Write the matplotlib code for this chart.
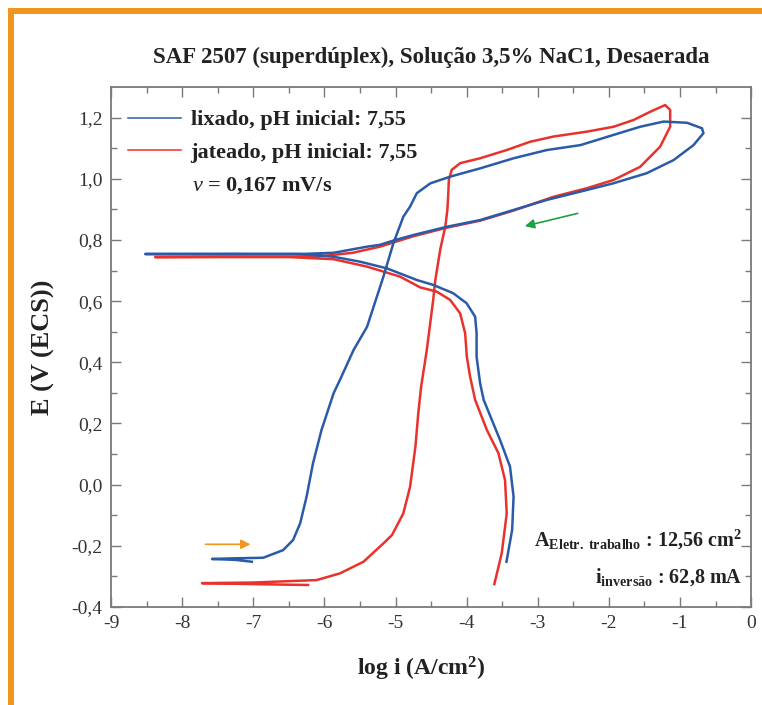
import numpy as np
import matplotlib.pyplot as plt
from matplotlib.lines import Line2D
from matplotlib.patches import Rectangle

plt.rcParams['font.family'] = ['Liberation Serif', 'DejaVu Serif']
plt.rcParams['mathtext.fontset'] = 'custom'
plt.rcParams['mathtext.rm'] = 'Liberation Serif'
plt.rcParams['mathtext.it'] = 'Liberation Serif:italic'
plt.rcParams['mathtext.bf'] = 'Liberation Serif:bold'

# curva lixado (azul): ida, inversao, volta e ramo catodico
lixado_logi = [-7.02, -7.25, -7.58, -7.3, -6.86, -6.58, -6.44, -6.34, -6.25, -6.16,
               -6.04, -5.87, -5.78, -5.59, -5.40, -5.17, -5.03, -4.89, -4.795, -4.70,
               -4.51, -4.23, -3.81, -3.34, -2.87, -2.40, -1.94, -1.56, -1.23, -0.90,
               -0.69, -0.67, -0.81, -1.09, -1.47, -1.94, -2.40, -2.87, -3.34, -3.81,
               -4.28, -4.75, -5.0, -5.22, -5.40, -5.87, -6.34, -7.28, -8.52, -7.28,
               -6.34, -5.87, -5.50, -5.12, -4.70, -4.47, -4.19, -4.00, -3.88, -3.86,
               -3.86, -3.81, -3.76, -3.53, -3.39, -3.34, -3.36, -3.44]
lixado_E = [-0.252, -0.246, -0.243, -0.241, -0.239, -0.214, -0.181, -0.126, -0.039, 0.070,
            0.179, 0.299, 0.343, 0.440, 0.516, 0.680, 0.789, 0.876, 0.909, 0.953,
            0.985, 1.007, 1.034, 1.067, 1.094, 1.110, 1.143, 1.170, 1.187, 1.183,
            1.165, 1.149, 1.110, 1.061, 1.018, 0.985, 0.958, 0.931, 0.898, 0.865,
            0.843, 0.816, 0.800, 0.784, 0.778, 0.758, 0.754, 0.753, 0.754, 0.755,
            0.754, 0.745, 0.729, 0.707, 0.669, 0.653, 0.626, 0.593, 0.549, 0.495,
            0.418, 0.331, 0.277, 0.146, 0.059, -0.039, -0.148, -0.252]

# curva jateado (vermelha)
jateado_logi = [-6.23, -6.8, -7.72, -7.0, -6.11, -5.78, -5.45, -5.17, -5.05, -4.89,
                -4.795, -4.72, -4.68, -4.64, -4.56, -4.47, -4.44, -4.37, -4.30, -4.27,
                -4.256, -4.25, -4.21, -4.09, -3.81, -3.435, -3.107, -2.779, -2.31, -1.935,
                -1.654, -1.419, -1.208, -1.138, -1.138, -1.279, -1.56, -1.935, -2.31, -2.779,
                -3.34, -3.81, -4.28, -4.75, -5.22, -5.6, -6.0, -6.5, -7.5, -8.38,
                -7.5, -6.5, -5.873, -5.404, -4.935, -4.654, -4.42, -4.232, -4.091, -4.021,
                -3.997, -3.951, -3.88, -3.716, -3.553, -3.46, -3.436, -3.506, -3.61]
jateado_E = [-0.328, -0.326, -0.322, -0.320, -0.312, -0.290, -0.252, -0.192, -0.165, -0.094,
             -0.007, 0.124, 0.233, 0.320, 0.440, 0.604, 0.669, 0.770, 0.843, 0.900,
             0.960, 0.996, 1.029, 1.051, 1.067, 1.094, 1.121, 1.138, 1.154, 1.170,
             1.192, 1.219, 1.241, 1.225, 1.170, 1.105, 1.039, 0.996, 0.969, 0.941,
             0.896, 0.863, 0.840, 0.812, 0.778, 0.758, 0.748, 0.745, 0.744, 0.744,
             0.745, 0.744, 0.737, 0.713, 0.680, 0.645, 0.631, 0.604, 0.560, 0.495,
             0.418, 0.353, 0.277, 0.179, 0.103, 0.015, -0.094, -0.224, -0.325]

xticks = [-9, -8, -7, -6, -5, -4, -3, -2, -1, 0]
yticks = [-0.4, -0.2, 0.0, 0.2, 0.4, 0.6, 0.8, 1.0, 1.2]
ytick_labels = ['-0,4', '-0,2', '0,0', '0,2', '0,4', '0,6', '0,8', '1,0', '1,2']

azul = '#2b5ba8'
vermelho = '#e8322b'
laranja = '#f0961e'
cinza = '#7a7a7a'
texto = '#222222'

fig = plt.figure(figsize=(7.62, 7.05), dpi=100)
ax = fig.add_axes([0.1457, 0.139, 0.84, 0.7376])

# moldura laranja
fig.add_artist(Rectangle((0.0105, 0.980), 0.99, 0.0085, transform=fig.transFigure,
                         color=laranja, lw=0))
fig.add_artist(Rectangle((0.0105, 0.0), 0.0079, 0.9885, transform=fig.transFigure,
                         color=laranja, lw=0))

ax.plot(jateado_logi, jateado_E, color=vermelho, lw=1.8)
ax.plot(lixado_logi, lixado_E, color=azul, lw=1.8)

ax.set_xlim(-9, 0)
ax.set_ylim(-0.4, 1.3)
ax.set_xticks(xticks)
ax.set_xticklabels([str(t) for t in xticks])
ax.set_yticks(yticks)
ax.set_yticklabels(ytick_labels)
ax.set_xticks(np.arange(-8.5, 0, 1.0), minor=True)
ax.set_yticks(np.arange(-0.3, 1.3, 0.2), minor=True)
ax.tick_params(which='both', direction='in', top=True, right=True, color=cinza,
               labelsize=14, labelcolor='#333333')
ax.tick_params(which='major', length=7.5, width=1.0, pad=6)
ax.tick_params(which='minor', length=4, width=1.0)
for s in ax.spines.values():
    s.set_color(cinza)
    s.set_linewidth(1.3)

ax.set_title('SAF 2507 (superdúplex), Solução 3,5% NaC1, Desaerada',
             fontsize=16.5, fontweight='bold', color=texto, pad=17)
ax.set_xlabel('log i (A/cm$^{\\mathbf{2}}$)', fontsize=17, fontweight='bold',
              color=texto)
ax.xaxis.set_label_coords(0.484, -0.091)
ax.set_ylabel('E (V (ECS))', fontsize=19, fontweight='bold', color=texto)
ax.yaxis.set_label_coords(-0.088, 0.5)

handles = [Line2D([], [], color=azul, lw=1.1), Line2D([], [], color=vermelho, lw=1.1)]
ax.legend(handles, ['lixado, pH inicial: 7,55', 'jateado, pH inicial: 7,55'],
          loc='upper left', bbox_to_anchor=(0.027, 0.956), frameon=False,
          prop={'weight': 'bold', 'size': 16}, handlelength=2.35, handletextpad=0.45,
          labelspacing=0.55, borderpad=0, borderaxespad=0, labelcolor=texto)

ax.text(0.127, 0.81, '$\\mathit{v}$ = 0,167 mV/s', transform=ax.transAxes,
        fontsize=16, fontweight='bold', color=texto, va='center', ha='left')

ax.text(0.986, 0.128, 'A$_{\\mathbf{Eletr.\\ trabalho}}$ : 12,56 cm$^{\\mathbf{2}}$',
        transform=ax.transAxes, fontsize=14.5, fontweight='bold', color=texto,
        ha='right', va='center')
ax.text(0.986, 0.058, 'i$_{\\mathbf{inversão}}$ : 62,8 mA',
        transform=ax.transAxes, fontsize=14.5, fontweight='bold', color=texto,
        ha='right', va='center')

# setas de sentido de varredura
ax.annotate('', xy=(-7.0, -0.195), xytext=(-7.71, -0.195),
            arrowprops=dict(arrowstyle='-|>', color=laranja, lw=1.2, mutation_scale=14))
ax.annotate('', xy=(-3.22, 0.843), xytext=(-2.40, 0.889),
            arrowprops=dict(arrowstyle='-|>', color='#22a040', lw=1.2, mutation_scale=14))

fig.savefig('out.png', dpi=100)
